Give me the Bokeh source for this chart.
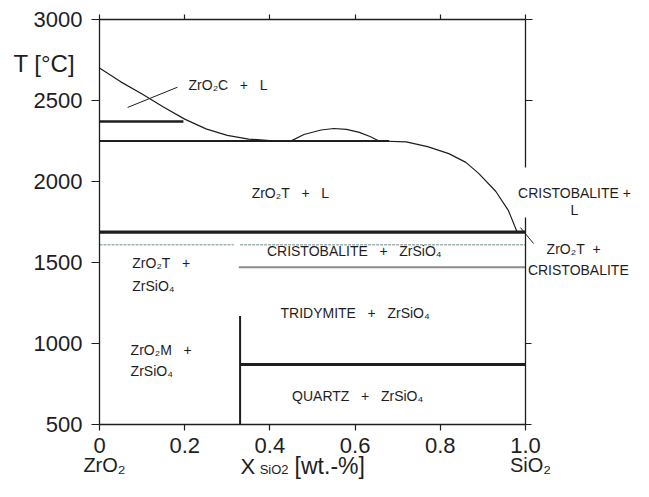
from bokeh.plotting import figure
from bokeh.models import (Range1d, LinearAxis, FixedTicker, CustomJSTickFormatter, Label)
from bokeh.embed import file_html
from bokeh.resources import INLINE

# ---------------- data ----------------
x_ticks = [0, 0.2, 0.4, 0.6, 0.8, 1.0]
T_ticks = [500, 1000, 1500, 2000, 2500, 3000]

# liquidus, ZrO2 side
liq_left_x = [0.0, 0.05, 0.10, 0.15, 0.20, 0.25, 0.30, 0.35, 0.40, 0.45]
liq_left_T = [2700, 2615, 2540, 2460, 2385, 2325, 2285, 2262, 2252, 2250]
# liquid miscibility dome
dome_x = [0.45, 0.48, 0.52, 0.55, 0.58, 0.61, 0.635, 0.655]
dome_T = [2251, 2290, 2318, 2327, 2322, 2303, 2278, 2252]
# liquidus, SiO2 side
liq_right_x = [0.655, 0.72, 0.77, 0.82, 0.86, 0.89, 0.93, 0.96, 0.98]
liq_right_T = [2250, 2245, 2215, 2172, 2118, 2050, 1940, 1820, 1690]

# invariant / transition lines
ZrO2_ct_x = [0.0, 0.197]; ZrO2_ct_T = [2370, 2370]
eutectic_x = [0.0, 0.68]; eutectic_T = [2250, 2250]
cristo_liq_x = [0.0, 1.0]; cristo_liq_T = [1687, 1687]
zircon_dec_x1 = [0.0, 0.315]; zircon_dec_x2 = [0.33, 1.0]; zircon_dec_T = [1610, 1610]
tri_cri_x = [0.327, 1.0]; tri_cri_T = [1470, 1470]
zircon_x = [0.33, 0.33]; zircon_T = [500, 1170]
qz_tri_x = [0.33, 1.0]; qz_tri_T = [870, 870]
leader1_x = [0.066, 0.183]; leader1_T = [2457, 2582]
leader2_x = [0.988, 1.019]; leader2_T = [1716, 1617]
right_upper_bounds = (2087, 3000); right_upper_ticks = [2500, 3000]
right_lower_bounds = (500, 1775); right_lower_ticks = [500, 1000]

# region labels
SP = "\u00a0\u00a0\u00a0"
lab_text = ["ZrO\u2082C" + SP + "+" + SP + "L",
            "ZrO\u2082T" + SP + "+" + SP + "L",
            "CRISTOBALITE" + SP + "+" + SP + "ZrSiO\u2084",
            "ZrO\u2082T" + SP + "+", "ZrSiO\u2084",
            "ZrO\u2082M" + SP + "+", "ZrSiO\u2084",
            "TRIDYMITE" + SP + "+" + SP + "ZrSiO\u2084",
            "QUARTZ" + SP + "+" + SP + "ZrSiO\u2084",
            "ZrO\u2082T\u00a0\u00a0+", "CRISTOBALITE",
            "CRISTOBALITE +", "L"]
lab_x = [0.209, 0.448, 0.598, 0.077, 0.077, 0.073, 0.073, 0.600, 0.606,
         1.113, 1.124, 1.115, 1.115]
lab_T = [2593, 1926, 1568, 1494, 1358, 957, 833, 1191, 679, 1586, 1451, 1932, 1821]
lab_align = ["left", "center", "center", "left", "left", "left", "left",
             "center", "center", "center", "center", "center", "center"]

# axis titles (text, x, T, size, align)
title_text = ["T [\u00b0C]", "ZrO\u2082", "SiO\u2082", "X", "SiO2", "[wt.-%]"]
title_x = [-0.202, 0.0117, 1.0117, 0.331, 0.376, 0.458]
title_T = [2728, 250, 250, 241, 222, 241]
title_size = ["24px", "20px", "20px", "22px", "13px", "23px"]
title_align = ["left", "center", "center", "left", "left", "left"]

FONT = "Liberation Sans"
INK = "#1e1e1e"

# layout: the frame fills the whole figure; axes sit at fixed data locations
W, H = 633, 481
X0_PX, X1_PX = 99, 525       # pixel of x=0 and x=1
T0_PX, T1_PX = 424, 19       # pixel of T=500 and T=3000
sx = (X1_PX - X0_PX) / 1.0
sy = (T0_PX - T1_PX) / 2500.0
x_range = Range1d(-X0_PX / sx, (W - X0_PX) / sx)
y_range = Range1d(500 - (H - T0_PX) / sy, 3000 + T1_PX / sy)

p = figure(width=W, height=H, x_range=x_range, y_range=y_range,
           output_backend="svg", toolbar_location=None,
           x_axis_location=None, y_axis_location=None,
           min_border=0, min_border_left=0, min_border_right=0,
           min_border_top=0, min_border_bottom=0)
p.outline_line_color = None
p.xgrid.visible = False
p.ygrid.visible = False
p.background_fill_color = "white"
p.border_fill_color = "white"

def make_axis(loc, bounds, ticks, tick_out, labels=True, formatter=None):
    kw = {}
    if formatter is not None:
        kw["formatter"] = formatter
    elif not labels:
        kw["formatter"] = CustomJSTickFormatter(code="return '';")
    ax = LinearAxis(fixed_location=loc, bounds=bounds,
                    ticker=FixedTicker(ticks=ticks), **kw)
    ax.axis_line_color = INK
    ax.axis_line_width = 1.3
    ax.major_tick_line_color = INK
    ax.major_tick_line_width = 1.2
    ax.major_tick_out = tick_out
    ax.major_tick_in = 0
    ax.minor_tick_line_color = None
    ax.major_label_text_font = FONT
    ax.major_label_text_color = INK
    ax.major_label_text_font_size = "22px" if labels else "1px"
    return ax

bottom = make_axis(500, (0, 1), x_ticks, 6,
                   formatter=CustomJSTickFormatter(code="return tick == 0 ? '0' : tick.toFixed(1);"))
bottom.major_label_standoff = 7
p.add_layout(bottom, "below")

left = make_axis(0, (500, 3000), T_ticks, 8)
left.major_label_standoff = 9
p.add_layout(left, "left")

top = make_axis(3000, (0, 1), x_ticks, 5, labels=False)
p.add_layout(top, "above")

right_up = make_axis(1.0, right_upper_bounds, right_upper_ticks, 7, labels=False)
p.add_layout(right_up, "right")
right_lo = make_axis(1.0, right_lower_bounds, right_lower_ticks, 6, labels=False)
p.add_layout(right_lo, "right")

# phase boundaries
p.line(liq_left_x, liq_left_T, line_color=INK, line_width=1.2)
p.line(dome_x, dome_T, line_color=INK, line_width=1.2)
p.line(liq_right_x, liq_right_T, line_color=INK, line_width=1.2)
p.line(leader1_x, leader1_T, line_color=INK, line_width=1.0)
p.line(leader2_x, leader2_T, line_color=INK, line_width=1.0)

p.line(ZrO2_ct_x, ZrO2_ct_T, line_color=INK, line_width=2.6)
p.line(eutectic_x, eutectic_T, line_color=INK, line_width=1.8)
p.line(cristo_liq_x, cristo_liq_T, line_color=INK, line_width=3.2)
p.line(zircon_dec_x1, zircon_dec_T, line_color="#9fb2b2", line_width=1.5, line_dash="3 1")
p.line(zircon_dec_x2, zircon_dec_T, line_color="#9fb2b2", line_width=1.5, line_dash="3 1")
p.line(tri_cri_x, tri_cri_T, line_color="#8c8c8c", line_width=2.0)
p.line(zircon_x, zircon_T, line_color=INK, line_width=2.0)
p.line(qz_tri_x, qz_tri_T, line_color=INK, line_width=3.0)

# region labels
for t, x, T, a in zip(lab_text, lab_x, lab_T, lab_align):
    p.add_layout(Label(x=x, y=T, text=t, text_align=a, text_baseline="middle",
                       text_font=FONT, text_font_size="14px", text_color=INK))

# axis titles
for t, x, T, s, a in zip(title_text, title_x, title_T, title_size, title_align):
    p.add_layout(Label(x=x, y=T, text=t, text_align=a, text_baseline="middle",
                       text_font=FONT, text_font_size=s, text_color=INK))

open("out.html", "w").write(file_html(p, INLINE))
